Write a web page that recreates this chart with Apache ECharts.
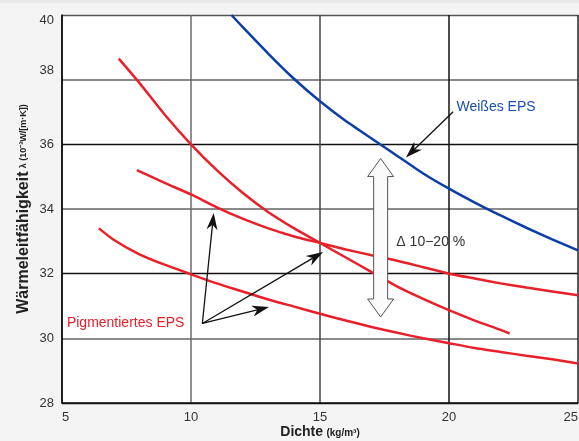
<!DOCTYPE html>
<html>
<head>
<meta charset="utf-8">
<script src="https://cdn.jsdelivr.net/npm/echarts@6/dist/echarts.min.js"></script>
<style>
html,body{margin:0;padding:0;background:#f4f4f4;}
#c{width:579px;height:441px;}
</style>
</head>
<body>
<div id="c"></div>
<script>
// ---- data ----
const xTicks = [5, 10, 15, 20, 25];
const yTicks = [28, 30, 32, 34, 36, 38, 40];

const whiteX = [11.57, 12, 13, 14, 15, 16, 17, 18, 19, 20, 21, 22, 23, 24, 25];
const whiteY = [40.0, 39.63, 38.8, 38.02, 37.33, 36.72, 36.18, 35.64, 35.1, 34.63, 34.2, 33.8, 33.42, 33.06, 32.72];

const pigA_X = [7.2, 8, 9, 10, 11, 12, 13, 14, 15, 16, 17, 18, 19, 20, 21, 22, 22.35];
const pigA_Y = [38.65, 37.9, 36.9, 36.0, 35.2, 34.5, 33.9, 33.4, 32.95, 32.5, 32.05, 31.6, 31.22, 30.87, 30.55, 30.26, 30.15];

const pigB_X = [7.9, 9, 10, 11, 12, 13, 14, 15, 16, 17, 18, 19, 20, 21, 22, 23, 24, 25];
const pigB_Y = [35.2, 34.8, 34.45, 34.05, 33.7, 33.4, 33.15, 32.95, 32.75, 32.57, 32.4, 32.2, 32.0, 31.85, 31.7, 31.57, 31.45, 31.33];

const pigC_X = [6.43, 7, 8, 9, 10, 11, 12, 13, 14, 15, 16, 17, 18, 19, 20, 21, 22, 23, 24, 25];
const pigC_Y = [33.4, 33.05, 32.6, 32.27, 31.98, 31.7, 31.45, 31.2, 30.98, 30.76, 30.55, 30.35, 30.17, 30.0, 29.85, 29.7, 29.58, 29.46, 29.35, 29.22];

// annotation arrows: [fromX, fromY, toX, toY]
const pigmentArrows = [[10.44, 30.46, 10.88, 33.88], [10.44, 30.46, 15.12, 32.67], [10.44, 30.46, 13.02, 30.97]];
const whiteArrow = [[20.16, 37.01, 18.33, 35.59]];
const deltaArrow = [[17.35, 35.56, 17.35, 30.66]];
// annotation labels: [x, y, text]
const labelWhite = [20.29, 37.16, 'Weißes EPS'];
const labelPigment = [5.19, 30.46, 'Pigmentiertes EPS'];
const labelDelta = [17.96, 32.98, 'Δ 10\u221220 %'];

const zip = (xs, ys) => xs.map((x, i) => [x, ys[i]]);

const RED = '#e8202a';
const BLUE = '#0a3fa6';
const FONT = '"Liberation Sans", Arial, Helvetica, sans-serif';

function arrowItem(params, api) {
  const p1 = api.coord([api.value(0), api.value(1)]);
  const p2 = api.coord([api.value(2), api.value(3)]);
  const dx = p2[0] - p1[0], dy = p2[1] - p1[1];
  const len = Math.sqrt(dx * dx + dy * dy);
  const ux = dx / len, uy = dy / len;
  const nx = -uy, ny = ux;
  const L = 17, W = 5.5, N = 12;
  const back = [p2[0] - ux * L, p2[1] - uy * L];
  const notch = [p2[0] - ux * N, p2[1] - uy * N];
  return {
    type: 'group',
    children: [
      { type: 'line', shape: { x1: p1[0], y1: p1[1], x2: notch[0], y2: notch[1] }, style: { stroke: '#111', lineWidth: 1.3 } },
      { type: 'polygon', shape: { points: [p2, [back[0] + nx * W, back[1] + ny * W], notch, [back[0] - nx * W, back[1] - ny * W]] }, style: { fill: '#111' } }
    ]
  };
}

function doubleArrowItem(params, api) {
  const t = api.coord([api.value(0), api.value(1)]);
  const b = api.coord([api.value(2), api.value(3)]);
  const x = t[0];
  const H = 18, HW = 13, SW = 7;
  const pts = [
    [x, t[1]], [x + HW, t[1] + H], [x + SW, t[1] + H], [x + SW, b[1] - H], [x + HW, b[1] - H],
    [x, b[1]], [x - HW, b[1] - H], [x - SW, b[1] - H], [x - SW, t[1] + H], [x - HW, t[1] + H]
  ];
  return { type: 'polygon', shape: { points: pts }, style: { fill: '#fbfbfb', stroke: '#555', lineWidth: 1 } };
}

const labelTexts = { tw: labelWhite[2], tp: labelPigment[2], td: labelDelta[2] };
function textItem(color, size) {
  return function (params, api) {
    const p = api.coord([api.value(0), api.value(1)]);
    return {
      type: 'text',
      x: p[0], y: p[1],
      style: { text: labelTexts[params.seriesName], fill: color, font: size + 'px ' + FONT, verticalAlign: 'middle', align: 'left' }
    };
  };
}

const chart = echarts.init(document.getElementById('c'), null, { renderer: 'canvas' });

const lineSeries = (name, data, color) => ({
  name, type: 'line', data, smooth: 0.2, symbol: 'none', showSymbol: false,
  lineStyle: { color, width: 2.5 }, xAxisIndex: 0, yAxisIndex: 0, z: 3, silent: true
});

const tickStyle = { fontSize: 13, color: '#333', fontFamily: FONT };

chart.setOption({
  backgroundColor: '#f4f4f4',
  animation: false,
  textStyle: { fontFamily: FONT },
  graphic: [{ type: 'rect', shape: { x: 0, y: 0, width: 579, height: 3 }, style: { fill: '#e9e9eb' }, z: -1 }],
  grid: { left: 62, right: 1, top: 15, bottom: 38, show: true, backgroundColor: '#ffffff', borderWidth: 0, containLabel: false, outerBoundsMode: 'none' },
  xAxis: [{
    type: 'value', min: xTicks[0], max: xTicks[xTicks.length - 1], interval: 5,
    name: '{b|Dichte} {s|(kg/m³)}', nameLocation: 'middle', nameGap: 22, nameMoveOverlap: false,
    nameTextStyle: { rich: { b: { fontSize: 14, fontWeight: 'bold', color: '#222', fontFamily: FONT }, s: { fontSize: 10, fontWeight: 'bold', color: '#222', fontFamily: FONT, padding: [2, 0, 0, 0] } } },
    axisLine: { show: true, lineStyle: { color: '#111', width: 1.5 } },
    axisTick: { show: false },
    axisLabel: { color: '#333', fontSize: 13, margin: 8, fontFamily: FONT, alignMinLabel: 'left', alignMaxLabel: 'right' },
    splitLine: { show: true, lineStyle: { color: ['#111', '#6a6a6a', '#444', '#111', '#222'], width: 1.5 } }
  }],
  yAxis: [{
    type: 'value', min: yTicks[0], max: yTicks[yTicks.length - 1], interval: 2,
    name: '{b|Wärmeleitfähigkeit} {s|λ (10⁻³W/[m·K])}', nameLocation: 'middle', nameGap: 30, nameRotate: 90, nameMoveOverlap: false,
    nameTextStyle: { rich: { b: { fontSize: 16, fontWeight: 'bold', color: '#222', fontFamily: FONT }, s: { fontSize: 9, fontWeight: 'bold', color: '#222', fontFamily: FONT } } },
    axisLine: { show: true, lineStyle: { color: '#111', width: 1.5 } },
    axisTick: { show: false },
    axisLabel: {
      color: '#333', fontSize: 13, margin: 8, fontFamily: FONT,
      formatter: v => v === 38 ? '{u|38}' : v === 40 ? '{d|40}' : String(v),
      rich: { u: Object.assign({ padding: [0, 0, 18, 0] }, tickStyle), d: Object.assign({ padding: [11, 0, 0, 0] }, tickStyle) }
    },
    splitLine: { show: true, lineStyle: { color: ['#111', 'rgba(0,0,0,0)', '#111', 'rgba(0,0,0,0)', '#111', 'rgba(0,0,0,0)', '#555'], width: 1.3 } }
  }, {
    type: 'value', min: yTicks[0], max: yTicks[yTicks.length - 1], interval: 2, position: 'left',
    axisLine: { show: false }, axisTick: { show: false }, axisLabel: { show: false },
    splitLine: { show: true, lineStyle: { color: ['rgba(0,0,0,0)', '#8a8a8a'], width: 2 } }
  }],
  series: [
    lineSeries('white', zip(whiteX, whiteY), BLUE),
    lineSeries('pigA', zip(pigA_X, pigA_Y), RED),
    lineSeries('pigB', zip(pigB_X, pigB_Y), RED),
    lineSeries('pigC', zip(pigC_X, pigC_Y), RED),
    { name: 'arrows', type: 'custom', renderItem: arrowItem, data: pigmentArrows.concat(whiteArrow), encode: { x: [0, 2], y: [1, 3] }, z: 5, clip: false, silent: true },
    { name: 'delta', type: 'custom', renderItem: doubleArrowItem, data: deltaArrow, encode: { x: [0, 2], y: [1, 3] }, z: 4, clip: false, silent: true },
    { name: 'tw', type: 'custom', renderItem: textItem('#1a4fb8', 14), data: [labelWhite.slice(0, 2)], encode: { x: 0, y: 1 }, z: 6, clip: false, silent: true },
    { name: 'tp', type: 'custom', renderItem: textItem(RED, 14), data: [labelPigment.slice(0, 2)], encode: { x: 0, y: 1 }, z: 6, clip: false, silent: true },
    { name: 'td', type: 'custom', renderItem: textItem('#333', 14), data: [labelDelta.slice(0, 2)], encode: { x: 0, y: 1 }, z: 6, clip: false, silent: true }
  ]
});
</script>
</body>
</html>
